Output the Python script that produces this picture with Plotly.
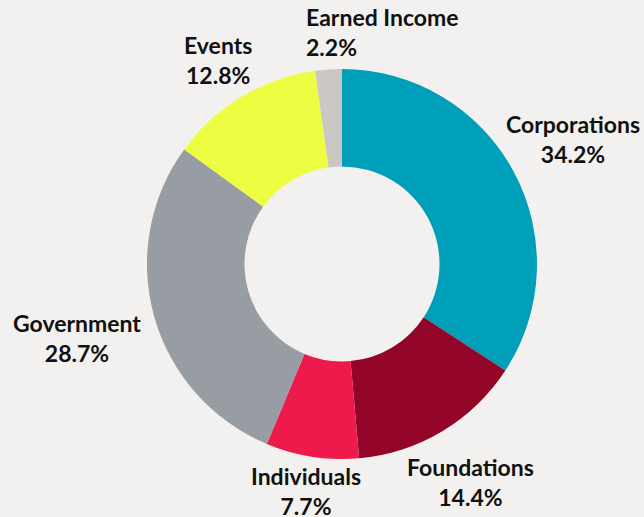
import math
import plotly.graph_objects as go

# Funding sources, clockwise from 12 o'clock
labels = ["Corporations", "Foundations", "Individuals", "Government", "Events", "Earned Income"]
values = [34.2, 14.4, 7.7, 28.7, 12.8, 2.2]
colors = ["#009fb9", "#920528", "#ef1a4c", "#979da2", "#ecfd42", "#cbc7c5"]

bg = "#f3f1ef"
W, H = 644, 517
cx, cy, R = 342, 264, 195   # pie centre / radius in pixels
font_size = 23

# small hand nudges (px) for label placement
nudge = {"Government": (-14, 4), "Foundations": (0, 3), "Individuals": (0, -2),
         "Events": (-2, -1), "Earned Income": (56, -4)}

fig = go.Figure()

fig.add_trace(go.Pie(
    labels=labels,
    values=values,
    sort=False,
    direction="clockwise",
    rotation=0,
    hole=0.5,
    marker=dict(colors=colors, line=dict(width=0)),
    textinfo="none",
    domain=dict(x=[(cx - R) / W, (cx + R) / W], y=[1 - (cy + R) / H, 1 - (cy - R) / H]),
    showlegend=False,
    hoverinfo="label+percent",
))

# rough text width, in px, for placing labels just outside the ring
def text_width(s):
    narrow = "iltfrjI.1 "
    wide = "mwMW%G"
    w = 0
    for ch in s:
        if ch in narrow:
            w += 0.33
        elif ch in wide:
            w += 0.82
        else:
            w += 0.57
    return w * 21

total = sum(values)
cum = 0
for lab, v in zip(labels, values):
    mid = cum + v / 2
    cum += v
    ang = math.radians(90 - 360 * mid / total)
    c, s = math.cos(ang), math.sin(ang)
    bw = max(text_width(lab), text_width(f"{v:.1f}%"))
    bh = 2 * 21 * 1.35
    ext = abs(c) * bw / 2 + abs(s) * bh / 2
    r = R + ext
    dx, dy = nudge.get(lab, (0, 0))
    px, py = cx + r * c + dx, cy - r * s + dy
    fig.add_annotation(
        x=px / W, y=1 - py / H, xref="paper", yref="paper",
        text=f"<b>{lab}</b><br><b>{v:.1f}%</b>",
        showarrow=False, align="left" if lab == "Earned Income" else "center",
        xanchor="center", yanchor="middle",
        font=dict(family="Lato", size=font_size, color="#111111"),
    )

fig.update_layout(
    width=W,
    height=H,
    margin=dict(l=0, r=0, t=0, b=0),
    paper_bgcolor=bg,
    plot_bgcolor=bg,
    showlegend=False,
)

fig.write_html("out.html", config={"displayModeBar": False},
               post_script="document.body.style.margin='0';")
